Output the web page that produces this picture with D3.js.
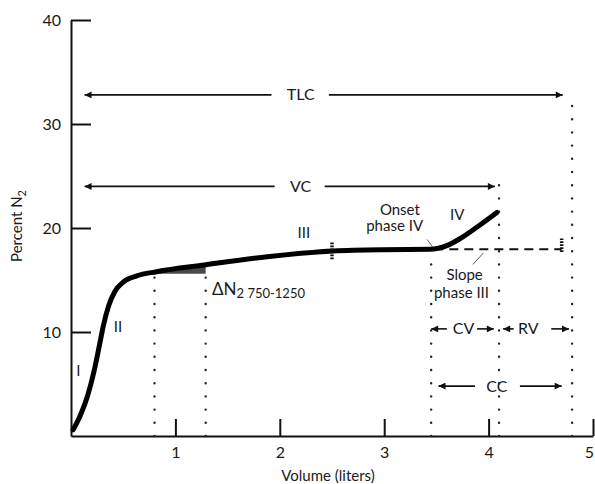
<!DOCTYPE html>
<html>
<head>
<meta charset="utf-8">
<script src="https://cdn.jsdelivr.net/npm/d3@7"></script>
<style>
  body { margin: 0; background: #fff; }
  svg text { font-family: Lato, "DejaVu Sans", sans-serif; fill: #1a1a1a; }
</style>
</head>
<body>
<div id="chart"></div>
<script>
// ------------ data
var volume = [0.02, 0.09, 0.16, 0.22, 0.27, 0.31, 0.36, 0.42, 0.5, 0.63, 0.82, 1.28, 1.88, 2.51, 2.99, 3.44, 3.6, 3.73, 3.89, 4.08];
var percentN2 = [0.6, 2.0, 3.9, 6.2, 8.6, 10.6, 12.5, 13.9, 14.8, 15.4, 15.8, 16.45, 17.24, 17.8, 17.92, 17.95, 18.3, 19.0, 20.1, 21.5];
var xTicks = [1, 2, 3, 4, 5];
var yTicks = [10, 20, 30, 40];
// dotted markers: volume, top of line (percent)
var dottedVol = [0.8, 1.29, 3.45, 4.1, 4.8];
var dottedTop = [15.6, 15.8, 17.5, 25.0, 32.4];
var phaseLabels = ["I", "II", "III", "IV"];

var width = 595, height = 484;

var svg = d3.select("#chart")
  .append("svg")
  .attr("width", width)
  .attr("height", height);

var x = d3.scaleLinear().domain([0, 5]).range([71, 593]);
var y = d3.scaleLinear().domain([0, 40]).range([436, 20]);

// arrowhead marker
var defs = svg.append("defs");
defs.append("marker")
  .attr("id", "head")
  .attr("viewBox", "0 0 10 10")
  .attr("refX", 10).attr("refY", 5)
  .attr("markerWidth", 10).attr("markerHeight", 7)
  .attr("markerUnits", "userSpaceOnUse")
  .attr("orient", "auto-start-reverse")
  .append("path")
  .attr("d", "M0,0L10,5L0,10Z")
  .attr("fill", "#111");

// ------------ axes
var xAxis = svg.append("g")
  .attr("transform", `translate(0, ${y(0)})`)
  .call(d3.axisBottom(x).tickValues(xTicks).tickFormat(d3.format("d"))
    .tickSizeInner(-17).tickSizeOuter(0).tickPadding(11));

var yAxis = svg.append("g")
  .attr("transform", `translate(${x(0)}, 0)`)
  .call(d3.axisLeft(y).tickValues(yTicks).tickFormat(d3.format("d"))
    .tickSizeInner(-20).tickSizeOuter(0).tickPadding(10));

[xAxis, yAxis].forEach(function(a) {
  a.select(".domain").attr("stroke", "#111").attr("stroke-width", 2);
  a.selectAll(".tick line").attr("stroke", "#111").attr("stroke-width", 2);
  a.selectAll(".tick text").style("font-size", "16px").attr("fill", "#1a1a1a");
});
yAxis.selectAll(".tick text").attr("dy", "0.36em");
// last label sits on the right edge, nudge it in
xAxis.selectAll(".tick text").filter(d => d === 5).attr("dx", -4);

// axis titles
svg.append("text")
  .attr("x", 328).attr("y", 481)
  .attr("text-anchor", "middle")
  .style("font-size", "15px")
  .text("Volume (liters)");

var yTitle = svg.append("text")
  .attr("transform", "translate(22, 226) rotate(-90)")
  .attr("text-anchor", "middle")
  .style("font-size", "15px");
yTitle.append("tspan").text("Percent N");
yTitle.append("tspan").attr("dy", 4).style("font-size", "11px").text("2");

// ------------ dotted verticals
svg.selectAll(".dotted")
  .data(dottedVol)
  .enter()
  .append("line")
  .attr("class", "dotted")
  .attr("x1", d => x(d)).attr("x2", d => x(d))
  .attr("y1", y(0)).attr("y2", (d, i) => y(dottedTop[i]))
  .attr("stroke", "#222")
  .attr("stroke-width", 2.4)
  .attr("stroke-linecap", "round")
  .attr("stroke-dasharray", "0 13.2");

// ------------ delta N2 triangle (under the curve)
var tri = [[0.8, 15.6], [0.8, 15.85], [1.29, 16.5], [1.29, 15.6]];
svg.append("path")
  .attr("d", d3.line().x(d => x(d[0])).y(d => y(d[1]))(tri) + "Z")
  .attr("fill", "#4a4a4a");

// slope phase III dashed line
svg.append("line")
  .attr("x1", x(3.48)).attr("x2", x(4.7))
  .attr("y1", y(17.95)).attr("y2", y(17.95))
  .attr("stroke", "#111").attr("stroke-width", 2)
  .attr("stroke-dasharray", "9 6");

// ------------ washout curve
var curvePts = volume.map((v, i) => [v, percentN2[i]]);
svg.append("path")
  .datum(curvePts)
  .attr("fill", "none")
  .attr("stroke", "#000")
  .attr("stroke-width", 5)
  .attr("stroke-linecap", "round")
  .attr("d", d3.line().x(d => x(d[0])).y(d => y(d[1])).curve(d3.curveMonotoneX));

// hatch marks on plateau
[[2.5, 17.0, 18.7], [4.7, 17.7, 19.0]].forEach(function(h) {
  svg.append("line")
    .attr("x1", x(h[0])).attr("x2", x(h[0]))
    .attr("y1", y(h[1])).attr("y2", y(h[2]))
    .attr("stroke", "#111").attr("stroke-width", 3.5)
    .attr("stroke-dasharray", "1.6 1.4");
});

// ------------ arrows with labels
function arrowLine(x1, x2, yv) {
  svg.append("line")
    .attr("x1", x1).attr("x2", x2)
    .attr("y1", y(yv)).attr("y2", y(yv))
    .attr("stroke", "#111").attr("stroke-width", 1.6)
    .attr("marker-end", "url(#head)");
}
function label(txt, px, py, size) {
  return svg.append("text")
    .attr("x", px).attr("y", py)
    .attr("text-anchor", "middle")
    .attr("dy", "0.35em")
    .style("font-size", (size || 16) + "px")
    .text(txt);
}

// TLC
arrowLine(x(1.92), x(0.13), 32.8);
arrowLine(x(2.47), x(4.71), 32.8);
label("TLC", x(2.2), y(32.8));
// VC
arrowLine(x(1.95), x(0.13), 24.0);
arrowLine(x(2.43), x(4.06), 24.0);
label("VC", x(2.2), y(24.0));
// CV / RV
arrowLine(x(3.6), x(3.45), 10.3);
arrowLine(x(3.89), x(4.05), 10.3);
label("CV", x(3.76), y(10.3));
arrowLine(x(4.24), x(4.14), 10.3);
arrowLine(x(4.6), x(4.77), 10.3);
label("RV", x(4.38), y(10.3));
// CC
arrowLine(x(3.87), x(3.52), 4.8);
arrowLine(x(4.3), x(4.7), 4.8);
label("CC", x(4.08), y(4.8));

// phase numerals
var phasePos = [[0.07, 6.3], [0.45, 10.5], [2.23, 19.5], [3.7, 21.3]];
phaseLabels.forEach(function(p, i) {
  label(p, x(phasePos[i][0]), y(phasePos[i][1]), 15);
});

// onset / slope notes
label("Onset", x(3.15), y(21.8), 15);
label("phase IV", x(3.1), y(20.2), 15);
svg.append("line")
  .attr("x1", x(3.41)).attr("y1", y(18.9))
  .attr("x2", x(3.47)).attr("y2", y(18.1))
  .attr("stroke", "#333").attr("stroke-width", 0.8);
label("Slope", x(3.77), y(15.5), 15);
label("phase III", x(3.74), y(13.8), 15);
svg.append("line")
  .attr("x1", x(3.85)).attr("y1", y(16.5))
  .attr("x2", x(3.95)).attr("y2", y(17.6))
  .attr("stroke", "#333").attr("stroke-width", 0.8);

// delta N2 label
var dl = svg.append("text")
  .attr("x", 212).attr("y", 295)
  .style("font-size", "17px");
dl.append("tspan").text("\u0394N");
dl.append("tspan").attr("dy", 3).style("font-size", "13px").text("2 750-1250");
</script>
</body>
</html>
